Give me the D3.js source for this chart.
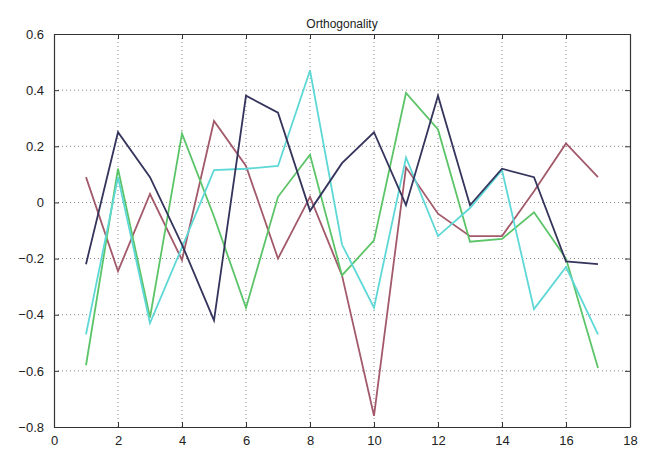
<!DOCTYPE html>
<html>
<head>
<meta charset="utf-8">
<script src="https://cdn.jsdelivr.net/npm/d3@7"></script>
<style>
  body { margin: 0; background: #fff; }
  svg { display: block; font-family: "Liberation Sans", Arial, sans-serif; }
</style>
</head>
<body>
<svg id="chart" width="649" height="449"></svg>
<script>
'use strict';

// x positions 1..17
var xs = d3.range(1, 18);

// one array per line
var navy  = [-0.22, 0.25, 0.09, -0.15, -0.42, 0.38, 0.32, -0.03, 0.14, 0.25, -0.01, 0.38, -0.01, 0.12, 0.09, -0.21, -0.22];
var red   = [0.09, -0.245, 0.03, -0.205, 0.29, 0.13, -0.2, 0.02, -0.26, -0.76, 0.125, -0.04, -0.12, -0.12, 0.04, 0.21, 0.09];
var green = [-0.58, 0.12, -0.41, 0.245, -0.05, -0.375, 0.02, 0.17, -0.26, -0.135, 0.39, 0.26, -0.14, -0.13, -0.035, -0.2, -0.59];
var cyan  = [-0.47, 0.09, -0.43, -0.16, 0.115, 0.12, 0.13, 0.47, -0.15, -0.375, 0.16, -0.12, -0.02, 0.115, -0.38, -0.23, -0.47];

var xTicks = [0, 2, 4, 6, 8, 10, 12, 14, 16, 18];
var yTicks = [-0.8, -0.6, -0.4, -0.2, 0, 0.2, 0.4, 0.6];

var series = [
    { name: 'red', values: red, color: '#a2596a' },
    { name: 'green', values: green, color: '#5cc468' },
    { name: 'cyan', values: cyan, color: '#5ed8d6' },
    { name: 'navy', values: navy, color: '#34345c' }
];

var plotLeft = 54, plotRight = 630, plotTop = 34, plotBottom = 427;

var svg = d3.select('#chart');

var x = d3.scaleLinear().domain([0, 18]).range([plotLeft, plotRight]);
var y = d3.scaleLinear().domain([-0.8, 0.6]).range([plotBottom, plotTop]);

// grid
var grid = svg.append('g').attr('class', 'grid');
grid.selectAll('line.gx').data(xTicks.slice(1, -1)).enter().append('line')
    .attr('x1', function (d) { return x(d); })
    .attr('x2', function (d) { return x(d); })
    .attr('y1', plotTop).attr('y2', plotBottom)
    .attr('stroke', '#888').attr('stroke-width', 1)
    .attr('stroke-dasharray', '1,3');
grid.selectAll('line.gy').data(yTicks.slice(1, -1)).enter().append('line')
    .attr('y1', function (d) { return y(d); })
    .attr('y2', function (d) { return y(d); })
    .attr('x1', plotLeft).attr('x2', plotRight)
    .attr('stroke', '#888').attr('stroke-width', 1)
    .attr('stroke-dasharray', '1,3');

// lines
var line = d3.line()
    .x(function (d, i) { return x(xs[i]); })
    .y(function (d) { return y(d); });

svg.selectAll('path.series').data(series).enter().append('path')
    .attr('class', 'series')
    .attr('d', function (s) { return line(s.values); })
    .attr('fill', 'none')
    .attr('stroke', function (s) { return s.color; })
    .attr('stroke-width', 1.8)
    .attr('stroke-linejoin', 'miter');

// axes (ticks inside, on all four sides)
var fmt = function (d) { return d === 0 ? '0' : d3.format('.1f')(d); };

svg.append('g')
    .attr('transform', 'translate(0,' + plotBottom + ')')
    .call(d3.axisBottom(x).tickValues(xTicks).tickSizeInner(-5).tickSizeOuter(0).tickPadding(9).tickFormat(d3.format('d')));
svg.append('g')
    .attr('transform', 'translate(0,' + plotTop + ')')
    .call(d3.axisTop(x).tickValues(xTicks).tickSizeInner(-5).tickSizeOuter(0).tickFormat(''));
svg.append('g')
    .attr('transform', 'translate(' + plotLeft + ',0)')
    .call(d3.axisLeft(y).tickValues(yTicks).tickSizeInner(-5).tickSizeOuter(0).tickPadding(10).tickFormat(fmt));
svg.append('g')
    .attr('transform', 'translate(' + plotRight + ',0)')
    .call(d3.axisRight(y).tickValues(yTicks).tickSizeInner(-5).tickSizeOuter(0).tickFormat(''));

svg.selectAll('.domain').attr('stroke', '#333').attr('stroke-width', 1.2);
svg.selectAll('.tick line').attr('stroke', '#333');
svg.selectAll('.tick text')
    .attr('font-size', 13)
    .attr('font-family', '"Liberation Sans", Arial, sans-serif')
    .attr('fill', '#222');

// title
svg.append('text')
    .attr('x', (plotLeft + plotRight) / 2)
    .attr('y', 28)
    .attr('text-anchor', 'middle')
    .attr('font-size', 12)
    .attr('fill', '#222')
    .text('Orthogonality');
</script>
</body>
</html>
